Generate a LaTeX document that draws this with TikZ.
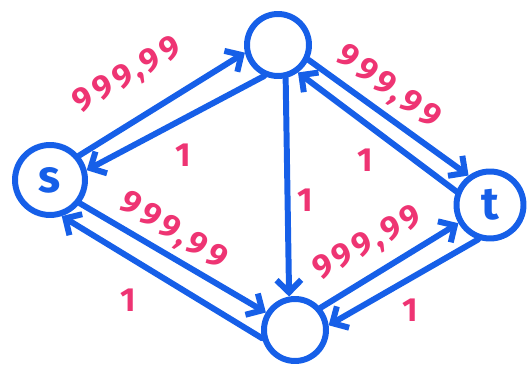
\documentclass[tikz,border=0pt]{standalone}
\usepackage{fontspec}
\setsansfont{Fira Sans}
\usetikzlibrary{arrows.meta}
\definecolor{penblue}{RGB}{22,95,232}
\definecolor{penpink}{RGB}{238,52,115}
\begin{document}
\begin{tikzpicture}[x=0.02cm,y=-0.02cm,
  vtx/.style={circle,draw=penblue,line width=3.4pt,inner sep=0pt,text=penblue,
    font=\sffamily\bfseries\fontsize{26}{26}\selectfont},
  edge/.style={draw=penblue,line width=3.4pt,line cap=round,
    -{Straight Barb[length=7pt,width=14pt]}},
  lab/.style={text=penpink,inner sep=0pt,
    font=\sffamily\bfseries\fontsize{19}{19}\selectfont\addfontfeature{LetterSpace=12}}]
\useasboundingbox (0,0) rectangle (530,367);
\node[vtx,minimum size=1.4cm] (s) at (50,180) {s};
\node[vtx,minimum size=1.24cm] (u) at (278,45) {};
\node[vtx,minimum size=1.34cm] (t) at (490,205) {t};
\node[vtx,minimum size=1.24cm] (v) at (295,330) {};
\draw[edge] (s.40) -- (u.193);
\draw[edge] (u.246) -- (s.15);
\draw[edge] (u.334) -- (t.126);
\draw[edge] (t.158) -- (u.306);
\draw[edge] (u.283) -- (v.100);
\draw[edge] (s.322) -- (v.149);
\draw[edge] (v.194) -- (s.288);
\draw[edge] (v.41) -- (t.210);
\draw[edge] (t.251) -- (v.8);
\node[lab,rotate=30] (l1) at (128,76) {999,99};
\node[lab] (l2) at (183,155) {1};
\node[lab,rotate=-36] (l3) at (388,88) {999,99};
\node[lab] (l4) at (365,160) {1};
\node[lab] (l5) at (305,200) {1};
\node[lab,rotate=-32] (l6) at (173,232) {999,99};
\node[lab] (l7) at (128,300) {1};
\node[lab,rotate=29] (l8) at (368,244) {999,99};
\node[lab] (l9) at (410,310) {1};
\end{tikzpicture}
\end{document}
